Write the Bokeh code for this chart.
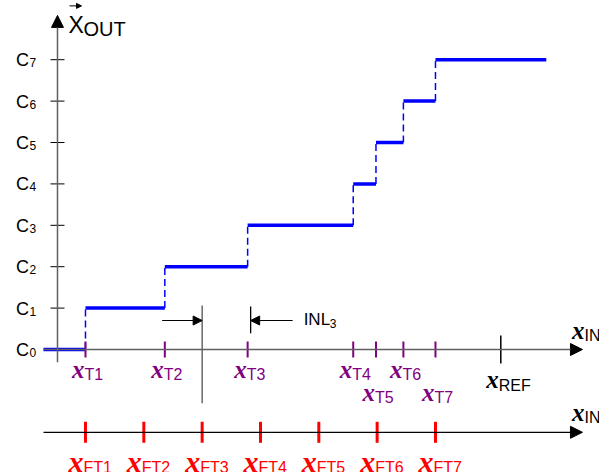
from bokeh.plotting import figure
from bokeh.models import Range1d, Arrow, NormalHead
from bokeh.core.properties import value
from bokeh.embed import file_html
from bokeh.resources import INLINE

# ---------------- data ----------------
code_levels = [0, 1, 2, 3, 4, 5, 6, 7]
code_subs = ["0", "1", "2", "3", "4", "5", "6", "7"]
t_points = [1.0, 2.36, 3.78, 5.59, 5.98, 6.45, 7.0]
t_subs = ["T1", "T2", "T3", "T4", "T5", "T6", "T7"]
t_lower_row = [False, False, False, False, True, False, True]
ft_points = [1, 2, 3, 4, 5, 6, 7]
ft_subs = ["FT1", "FT2", "FT3", "FT4", "FT5", "FT6", "FT7"]
x_ref = 8.12
x_start = 0.28
x_stop = 8.90
axis_tip = 9.52
y_axis_x = 0.52
y_axis_bottom = -0.31
y_axis_tip = 8.07
bottom_axis_y = -2.0
inl_index = 2
inl_y = 0.70

# pixel -> data unit helpers
PXX = 1 / 58.33
PXY = 1 / 41.4
LIFT = 6 * PXY  # text baseline correction

BLUE = "#0000FF"
PURPLE = "#800080"
RED = "#FF0000"
AXIS = "#606060"
SANS = value("Liberation Sans")
SERIF = value("Liberation Serif")

p = figure(width=599, height=472,
           x_range=Range1d(-0.457, 9.812), y_range=Range1d(-2.971, 8.430),
           output_backend="svg", toolbar_location=None,
           x_axis_location=None, y_axis_location=None,
           min_border=0, outline_line_color=None)
p.grid.grid_line_color = None
p.background_fill_color = "white"


def arrow(x0, y0, x1, y1, color, width, size, head_color="black"):
    p.add_layout(Arrow(end=NormalHead(size=size, fill_color=head_color,
                                      line_color=head_color, line_width=1),
                       x_start=x0, y_start=y0, x_end=x1, y_end=y1,
                       line_color=color, line_width=width))


def label(xs, ys, texts, size, color="black", align="left", font=SANS, style="normal"):
    p.text(x=xs, y=[y + LIFT for y in ys], text=texts, text_font=font,
           text_font_style=style, text_font_size=size, text_color=color,
           text_align=align, text_baseline="alphabetic")


# axes
arrow(x_start, 0, axis_tip, 0, AXIS, 1.5, 12)
arrow(y_axis_x, y_axis_bottom, y_axis_x, y_axis_tip, AXIS, 1.5, 12)
arrow(x_start, bottom_axis_y, axis_tip, bottom_axis_y, "black", 1.2, 12)

# y ticks
n = len(code_levels)
p.segment(x0=[y_axis_x - 7 * PXX] * n, y0=code_levels,
          x1=[y_axis_x + 7 * PXX] * n, y1=code_levels,
          line_color="black", line_width=1)

# staircase
lefts = [x_start] + t_points
rights = t_points + [x_stop]
p.segment(x0=lefts, y0=code_levels, x1=rights, y1=code_levels,
          line_color=BLUE, line_width=3.5, line_cap="butt")
p.segment(x0=t_points, y0=code_levels[:-1], x1=t_points, y1=code_levels[1:],
          line_color=BLUE, line_width=1.5, line_dash="7 4")

# purple transition ticks
m = len(t_points)
p.segment(x0=t_points, y0=[8 * PXY] * m, x1=t_points, y1=[-8 * PXY] * m,
          line_color=PURPLE, line_width=2)
# REF tick
p.segment(x0=[x_ref], y0=[14 * PXY], x1=[x_ref], y1=[-14 * PXY],
          line_color="black", line_width=1.5)
# red ideal ticks
k = len(ft_points)
p.segment(x0=ft_points, y0=[bottom_axis_y + 10.5 * PXY] * k,
          x1=ft_points, y1=[bottom_axis_y - 10.5 * PXY] * k,
          line_color=RED, line_width=3)

# INL construction
ft_inl = ft_points[inl_index]
t_inl = t_points[inl_index] + 3 * PXX
p.segment(x0=[ft_inl], y0=[-1.30], x1=[ft_inl], y1=[1.06],
          line_color="#505050", line_width=1.3)
p.segment(x0=[t_inl], y0=[0.39], x1=[t_inl], y1=[1.04],
          line_color="black", line_width=1.3)
arrow(ft_inl - 40 * PXX, inl_y, ft_inl, inl_y, "black", 1.2, 9)
arrow(t_inl + 42 * PXX, inl_y, t_inl, inl_y, "black", 1.2, 9)
label([t_inl + 53 * PXX], [inl_y - 5 * PXY], ["INL"], "17px")
label([t_inl + 79 * PXX], [inl_y - 9 * PXY], [str(inl_index + 1)], "12px")

# C labels
label([y_axis_x - 28.5 * PXX] * n, [c - 6.5 * PXY for c in code_levels],
      ["C"] * n, "18px", align="right")
label([y_axis_x - 28 * PXX] * n, [c - 9 * PXY for c in code_levels],
      code_subs, "12px")

# X_OUT label with vector arrow
label([y_axis_x + 11 * PXX], [7.705], ["X"], "23px")
label([y_axis_x + 26 * PXX], [7.705 - 4 * PXY], ["OUT"], "20px")
arrow(y_axis_x + 12 * PXX, 8.30, y_axis_x + 24 * PXX, 8.30, "black", 1, 5)


def xlabel(xs, ys, subs, color, xsize, ssize, dx, sub_dy):
    label([x + dx * PXX for x in xs], ys, ["x"] * len(xs), xsize, color=color,
          align="right", font=SERIF, style="bold italic")
    label([x + dx * PXX for x in xs], [y - sub_dy * PXY for y in ys], subs,
          ssize, color=color)


# transition labels
t_y = [(-49 if low else -26) * PXY for low in t_lower_row]
xlabel(t_points, t_y, t_subs, PURPLE, "25px", "16px", -1, 5)
# REF
xlabel([x_ref], [-36 * PXY], ["REF"], "black", "25px", "16px", -2, 6)
# IN labels
xlabel([axis_tip + 2 * PXX], [13 * PXY], ["IN"], "black", "25px", "16px", 0, 5)
xlabel([axis_tip + 2 * PXX], [bottom_axis_y + 14 * PXY], ["IN"], "black", "25px", "16px", 0, 5)
# ideal transition labels
xlabel(ft_points, [bottom_axis_y - 35 * PXY] * k, ft_subs, RED, "30px", "16px", -2, 6)

open("out.html", "w").write(file_html(p, INLINE))
